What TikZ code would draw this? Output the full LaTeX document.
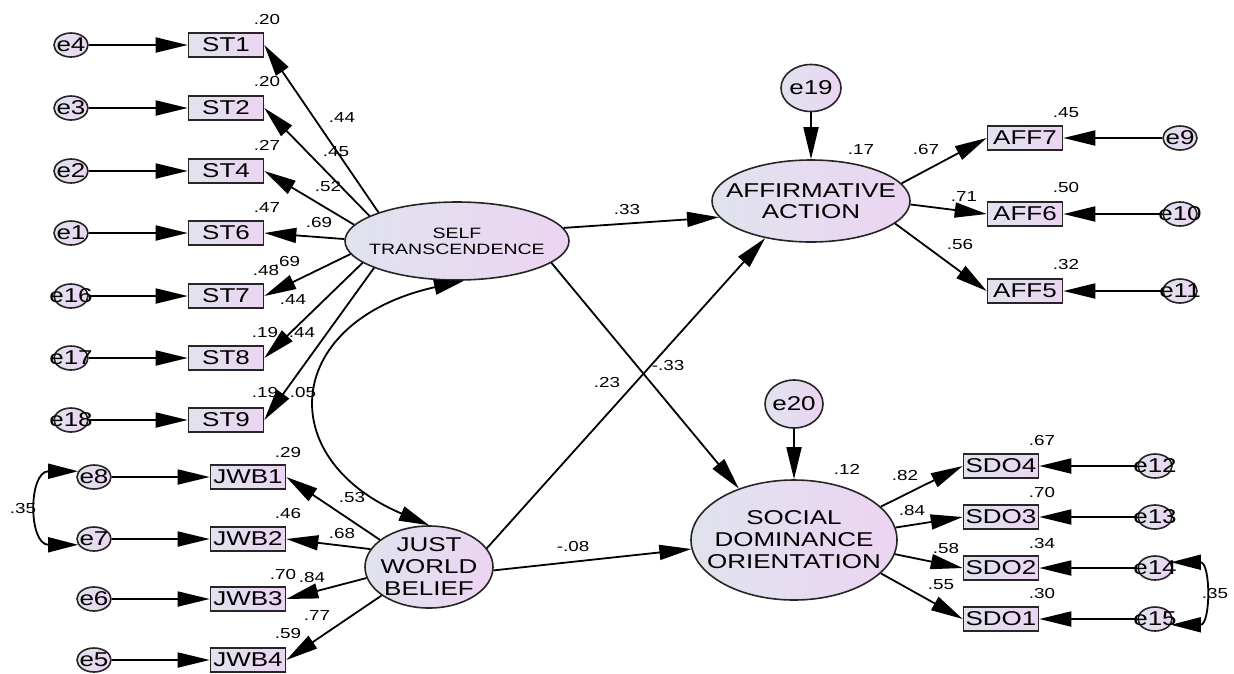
\documentclass[tikz,border=0pt]{standalone}
\usepackage{fontspec}
\setmainfont{Liberation Sans}
\newfontfamily\amos[FakeStretch=1.3]{Liberation Sans}
\usetikzlibrary{arrows.meta,shapes.geometric}
\definecolor{fillL}{RGB}{224,227,238}
\definecolor{fillR}{RGB}{236,212,242}
\begin{document}
\begin{tikzpicture}[x=1pt,y=-1pt,
  obs/.style={rectangle, draw=black!85, line width=1.6pt, left color=fillL, right color=fillR,
    minimum width=75pt, minimum height=24pt, inner sep=0pt, font=\amos\fontsize{20}{20}\selectfont},
  lat/.style={ellipse, draw=black!85, line width=1.6pt, left color=fillL, right color=fillR,
    inner xsep=-30pt, inner ysep=-15pt, align=center},
  err/.style={ellipse, draw=black!85, line width=1.6pt, left color=fillL, right color=fillR,
    minimum width=34pt, minimum height=24pt, inner xsep=-22pt, inner ysep=-10pt, font=\amos\fontsize{20}{20}\selectfont},
  lab/.style={inner sep=0pt, font=\amos\fontsize{14.5}{15}\selectfont},
  pth/.style={line width=1.8pt, -{Triangle[length=32pt,width=15pt]}},
  cov/.style={line width=1.8pt, {Triangle[length=30pt,width=15pt]}-{Triangle[length=30pt,width=15pt]}}
]
\useasboundingbox (0,0) rectangle (1234,673);
\fill[white] (0,0) rectangle (1234,673);

% ---- Self transcendence indicators
\node[err] (e4) at (71,45) {e4};
\node[err] (e3) at (71,108) {e3};
\node[err] (e2) at (71,171) {e2};
\node[err] (e1) at (71,233) {e1};
\node[err] (e16) at (71,296) {e16};
\node[err] (e17) at (71,358) {e17};
\node[err] (e18) at (71,420) {e18};
\node[obs] (st1) at (226,45) {ST1};
\node[obs] (st2) at (226,108) {ST2};
\node[obs] (st4) at (226,171) {ST4};
\node[obs] (st6) at (226,233) {ST6};
\node[obs] (st7) at (226,296) {ST7};
\node[obs] (st8) at (226,358) {ST8};
\node[obs] (st9) at (226,420) {ST9};

% ---- Just world belief indicators
\node[err] (e8) at (94,477) {e8};
\node[err] (e7) at (94,539) {e7};
\node[err] (e6) at (94,599) {e6};
\node[err] (e5) at (94,660) {e5};
\node[obs] (jwb1) at (248,477) {JWB1};
\node[obs] (jwb2) at (248,539) {JWB2};
\node[obs] (jwb3) at (248,599) {JWB3};
\node[obs] (jwb4) at (248,660) {JWB4};

% ---- Latent variables
\node[lat, minimum width=224pt, minimum height=78pt, font=\amos\fontsize{15}{16}\selectfont] (st) at (457,241) {SELF\\TRANSCENDENCE};
\node[lat, minimum width=198pt, minimum height=82pt, font=\amos\fontsize{20}{21}\selectfont] (aff) at (811,201) {AFFIRMATIVE\\ACTION};
\node[lat, minimum width=206pt, minimum height=120pt, font=\amos\fontsize{20}{22}\selectfont] (sdo) at (794,540) {SOCIAL\\DOMINANCE\\ORIENTATION};
\node[lat, minimum width=128pt, minimum height=82pt, font=\amos\fontsize{20}{22}\selectfont] (jwb) at (429,567) {JUST\\WORLD\\BELIEF};
\node[err, minimum width=60pt, minimum height=47pt] (e19) at (811,88) {e19};
\node[err, minimum width=58pt, minimum height=48pt] (e20) at (794,404) {e20};

% ---- Affirmative action indicators
\node[obs] (aff7) at (1025,138) {AFF7};
\node[obs] (aff6) at (1025,214) {AFF6};
\node[obs] (aff5) at (1025,291) {AFF5};
\node[err] (e9) at (1180,138) {e9};
\node[err] (e10) at (1180,214) {e10};
\node[err] (e11) at (1180,291) {e11};

% ---- SDO indicators
\node[obs] (sdo4) at (1001,466) {SDO4};
\node[obs] (sdo3) at (1001,517) {SDO3};
\node[obs] (sdo2) at (1001,568) {SDO2};
\node[obs] (sdo1) at (1001,619) {SDO1};
\node[err] (e12) at (1155,466) {e12};
\node[err] (e13) at (1155,517) {e13};
\node[err] (e14) at (1155,568) {e14};
\node[err] (e15) at (1155,619) {e15};

% ---- Error arrows
\foreach \e/\b in {e4/st1,e3/st2,e2/st4,e1/st6,e16/st7,e17/st8,e18/st9,e8/jwb1,e7/jwb2,e6/jwb3,e5/jwb4,e9/aff7,e10/aff6,e11/aff5,e12/sdo4,e13/sdo3,e14/sdo2,e15/sdo1}
  \draw[pth] (\e) -- (\b);
\draw[pth] (e19) -- (aff);
\draw[pth] (e20) -- (sdo);

% ---- Loadings
\draw[pth] (st.160) -- (st1.east);
\draw[pth] (st.164) -- (st2.east);
\draw[pth] (st.171) -- (st4.east);
\draw[pth] (st.179) -- (st6.east);
\draw[pth] (st.187) -- (st7.east);
\draw[pth] (st.193) -- (st8.east);
\draw[pth] (st.198) -- (st9.east);
\draw[pth] (jwb.151) -- (jwb1.east);
\draw[pth] (jwb.163) -- (jwb2.east);
\draw[pth] (jwb.190) -- (jwb3.east);
\draw[pth] (jwb.211) -- (jwb4.east);
\draw[pth] (aff.11) -- (aff7.west);
\draw[pth] (aff.-2) -- (aff6.west);
\draw[pth] (aff.-15) -- (aff5.west);
\draw[pth] (sdo.21) -- (sdo4.west);
\draw[pth] (sdo.7) -- (sdo3.west);
\draw[pth] (sdo.-8) -- (sdo2.west);
\draw[pth] (sdo.-21) -- (sdo1.west);

% ---- Structural paths
\draw[pth] (st.7) -- (aff.190);
\draw[pth] (st.-13) -- (sdo.137);
\draw[pth] (jwb.18) -- (aff.219);
\draw[pth] (jwb.-3) -- (sdo.185);

% ---- Covariances
\draw[cov] (st.-80) .. controls +(-180,40) and +(-158,-67) .. (jwb.north);
\draw[cov] (e8.160) .. controls +(-50,0) and +(-50,0) .. (e7.200);
\draw[cov] (e14.20) .. controls +(40,0) and +(40,0) .. (e15.-20);

% ---- Labels
\node[lab] (r1) at (267,20) {.20};
\node[lab] (r2) at (267,82) {.20};
\node[lab] (r4) at (267,145) {.27};
\node[lab] (r6) at (267,208) {.47};
\node[lab] (p7) at (287,262) {.69};
\node[lab] (r7) at (266,271) {.48};
\node[lab] (r8) at (265,333) {.19};
\node[lab] (r9) at (265,392) {.19};
\node[lab] (p1) at (342,118) {.44};
\node[lab] (p2) at (336,152) {.45};
\node[lab] (p4) at (328,187) {.52};
\node[lab] (p6) at (319,223) {.69};
\node[lab] (p7b) at (293,300) {.44};
\node[lab] (p8) at (302,333) {.44};
\node[lab] (p9) at (303,392) {.05};
\node[lab] (rj1) at (288,452) {.29};
\node[lab] (rj2) at (288,513) {.46};
\node[lab] (rj3) at (283,574) {.70};
\node[lab] (pj3) at (312,577) {.84};
\node[lab] (pj4) at (317,616) {.77};
\node[lab] (rj4) at (288,633) {.59};
\node[lab] (pj1) at (352,497) {.53};
\node[lab] (pj2) at (342,533) {.68};
\node[lab] (c1) at (23,508) {.35};
\node[lab] (s1) at (627,210) {.33};
\node[lab] (s2) at (607,382) {.23};
\node[lab] (s3) at (668,365) {-.33};
\node[lab] (s4) at (573,546) {-.08};
\node[lab] (ra7) at (1066,113) {.45};
\node[lab] (ra6) at (1066,188) {.50};
\node[lab] (ra5) at (1066,265) {.32};
\node[lab] (raff) at (861,150) {.17};
\node[lab] (pa7) at (926,150) {.67};
\node[lab] (pa6) at (964,197) {.71};
\node[lab] (pa5) at (960,245) {.56};
\node[lab] (rsdo) at (847,469) {.12};
\node[lab] (ps4) at (905,475) {.82};
\node[lab] (ps3) at (912,510) {.84};
\node[lab] (ps2) at (946,548) {.58};
\node[lab] (ps1) at (941,585) {.55};
\node[lab] (rs4) at (1042,440) {.67};
\node[lab] (rs3) at (1042,492) {.70};
\node[lab] (rs2) at (1042,543) {.34};
\node[lab] (rs1) at (1042,593) {.30};
\node[lab] (c2) at (1215,593) {.35};
\end{tikzpicture}
\end{document}
